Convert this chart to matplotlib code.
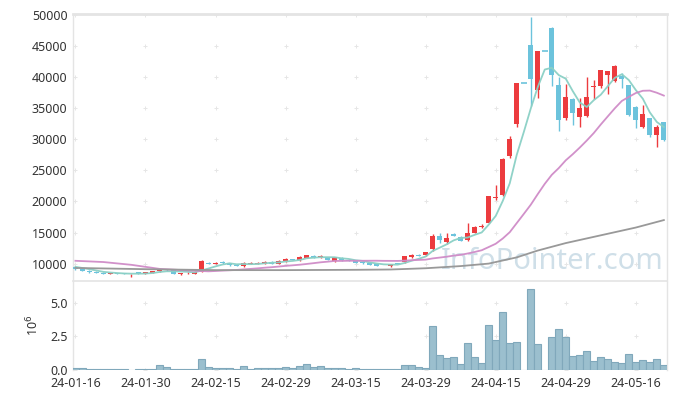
import matplotlib
matplotlib.use('Agg')
import matplotlib.pyplot as plt
import numpy as np
import pandas as pd

# ---------------- data ----------------
dates = (
    ["2024-01-%02d" % d for d in [16, 17, 18, 19, 22, 23, 24, 25, 26, 29, 30, 31]]
    + ["2024-02-%02d" % d for d in [1, 2, 5, 6, 7, 8, 13, 14, 15, 16, 19, 20, 21, 22, 23, 26, 27, 28, 29]]
    + ["2024-03-%02d" % d for d in [4, 5, 6, 7, 8, 11, 12, 13, 14, 15, 18, 19, 20, 21, 22, 25, 26, 27, 28, 29]]
    + ["2024-04-%02d" % d for d in [1, 2, 3, 4, 5, 8, 9, 11, 12, 15, 16, 17, 18, 19, 22, 23, 24, 25, 26, 29, 30]]
    + ["2024-05-%02d" % d for d in [2, 3, 7, 8, 9, 10, 13, 14, 16, 17, 20, 21, 22]]
)

opens = [9450, 9050, 8850, 8700, 8550, 8350, 8500, 8450, 8300, 8600,
         8350, 8550, 8750, 9150, 8900, 8250, 8450, 8400, 8650, 10150,
         9950, 10300, 10100, 9850, 9550, 10000, 9950, 9950, 10300, 9950,
         10350, 10700, 10550, 10900, 11300, 11000, 11050, 10450, 10900, 10600,
         10500, 10200, 10150, 9900, 9800, 9650, 10050, 10250, 11000, 11400,
         11350, 12300, 14500, 13400, 14800, 14350, 13800, 15000, 15900, 16600,
         20500, 21000, 27300, 32400, 39000, 45200, 37900, 44200, 47900, 38700,
         33400, 36500, 33550, 33700, 38400, 38550, 40300, 39350, 40100, 38700,
         35200, 31900, 33450, 30750, 32700]
highs = [9500, 9150, 8900, 8750, 8600, 8550, 8550, 8500, 8400, 8650,
         8650, 8850, 9200, 9200, 8950, 8500, 8650, 8750, 10550, 10250,
         10250, 10350, 10150, 9900, 10300, 10200, 10250, 10350, 10350, 10550,
         10900, 10750, 11150, 11450, 11400, 11400, 11100, 11100, 11000, 10700,
         10550, 10250, 10200, 9950, 9850, 10000, 10150, 11300, 11550, 11500,
         11850, 14800, 14900, 14900, 14950, 14400, 16600, 16000, 16400, 20900,
         22700, 27000, 30500, 39100, 39000, 49700, 44200, 44200, 48100, 40000,
         38950, 36650, 36650, 40000, 39600, 41200, 41050, 41950, 40650, 38800,
         35300, 35500, 33500, 32300, 32800]
lows = [8950, 8750, 8550, 8450, 8300, 8300, 8350, 8250, 7900, 8300,
        8300, 8500, 8700, 8850, 8300, 8150, 8400, 8350, 8600, 9900,
        9900, 10000, 9650, 9550, 9500, 9950, 9900, 9900, 10000, 9900,
        10300, 10550, 10450, 10850, 10900, 10900, 10550, 10300, 10450, 10400,
        10100, 10000, 9750, 9600, 9700, 9500, 9950, 10100, 10950, 11200,
        11300, 12000, 13300, 13200, 14400, 13650, 13700, 14900, 15750, 16500,
        20300, 20800, 27000, 32000, 39000, 35300, 36650, 44200, 38600, 31400,
        33150, 32300, 32000, 33600, 36400, 38200, 37300, 39200, 38250, 33800,
        31800, 31800, 30350, 28700, 29800]
closes = [9050, 8800, 8650, 8500, 8350, 8500, 8400, 8300, 8350, 8350,
          8600, 8800, 9150, 8900, 8350, 8450, 8550, 8700, 10400, 9950,
          10150, 10050, 9700, 9600, 10150, 10050, 10150, 10300, 10000, 10450,
          10800, 10600, 11050, 11350, 10950, 11200, 10600, 11000, 10500, 10450,
          10150, 10050, 9800, 9650, 9750, 9950, 10000, 11150, 11450, 11300,
          11800, 14500, 13750, 14150, 14500, 13700, 14900, 15900, 16050, 20800,
          20700, 26900, 30100, 39000, 39000, 39700, 44200, 44200, 40400, 33100,
          36800, 34200, 35050, 36800, 38600, 41200, 41050, 41750, 39700, 33900,
          33150, 34100, 30750, 32000, 29850]
volumes = [150e3, 150e3, 70e3, 70e3, 70e3, 70e3, 70e3, 70e3, 0, 70e3,
           70e3, 110e3, 350e3, 200e3, 50e3, 50e3, 50e3, 50e3, 800e3, 200e3,
           120e3, 120e3, 120e3, 50e3, 270e3, 50e3, 120e3, 120e3, 120e3, 120e3,
           200e3, 120e3, 270e3, 420e3, 200e3, 270e3, 120e3, 120e3, 120e3, 50e3,
           120e3, 50e3, 50e3, 50e3, 50e3, 50e3, 50e3, 348e3, 348e3, 199e3,
           124e3, 3.26e6, 1.09e6, 0.90e6, 0.95e6, 0.42e6, 1.99e6, 0.95e6, 0.50e6, 3.33e6,
           2.21e6, 4.30e6, 1.99e6, 2.06e6, 0, 6.02e6, 1.92e6, 0, 2.44e6, 3.03e6,
           2.49e6, 1.02e6, 1.09e6, 1.39e6, 0.65e6, 0.95e6, 0.80e6, 0.57e6, 0.50e6, 1.17e6,
           0.57e6, 0.72e6, 0.57e6, 0.80e6, 0.35e6]

# moving-average values before the window is complete
ma5_head_idx = [0, 2]
ma5_head = [9480, 9100]
ma20_head_idx = [0, 4, 8, 12, 16]
ma20_head = [10450, 10250, 9800, 9150, 8900]
# long moving average (needs history outside the chart)
malong_idx = [0, 10, 20, 30, 40, 45, 50, 55, 59, 63, 66, 70, 75, 80, 84]
malong = [9300, 9100, 8950, 8950, 9000, 9050, 9250, 9600, 10000, 11000,
          12100, 13300, 14550, 15800, 17000]

tick_step = 10
price_ticks = [10000, 15000, 20000, 25000, 30000, 35000, 40000, 45000, 50000]
vol_ticks = [0.0, 2.5, 5.0]

# ---------------- styling ----------------
plt.rcParams['font.family'] = ['Noto Sans', 'DejaVu Sans']
RED = '#ec3b3e'
BLUE = '#6cc3dc'
GRID = '#e6e6e6'
SPINE = '#e4e4e4'
TXT = '#333333'

n = len(closes)
x = np.arange(n)
o = np.array(opens, float); h = np.array(highs, float)
l = np.array(lows, float); c = np.array(closes, float)

fig = plt.figure(figsize=(6.77, 3.99), dpi=100)
ax = fig.add_axes([73/677, 118/399, 594/677, 267/399])
axv = fig.add_axes([73/677, 29/399, 594/677, 88/399], sharex=ax)

up = c > o
cols = [RED if u else BLUE for u in up]

# wicks
ax.vlines(x, l, h, colors=cols, linewidth=1.0, zorder=3)
# bodies
body_h = np.abs(c - o)
ax.bar(x, body_h, bottom=np.minimum(o, c), width=0.68, color=cols,
       linewidth=0, zorder=4)
flat = body_h == 0
ax.hlines(c[flat], x[flat] - 0.4, x[flat] + 0.4, colors=[cols[i] for i in np.where(flat)[0]],
          linewidth=1.2, zorder=4)

# moving averages
s = pd.Series(c)
ma5 = s.rolling(5).mean().values
ma20 = s.rolling(20).mean().values
ax.plot(ma5_head_idx + list(x[4:]), ma5_head + list(ma5[4:]), color='#8ad0c5',
        lw=1.3, zorder=5, alpha=0.95)
ax.plot(ma20_head_idx + list(x[19:]), ma20_head + list(ma20[19:]), color='#cf8bc7',
        lw=1.3, zorder=5, alpha=0.95)
ax.plot(malong_idx, malong, color='#999999', lw=1.3, zorder=5)

# watermark
ax.text(0.806, 0.044, 'InfoPointer.com', transform=ax.transAxes, ha='center',
        va='baseline', fontsize=21, color='#c3d7e3', alpha=0.8, zorder=2)

# volume
axv.bar(x, np.array(volumes) / 1e6, width=1.0, color='#9bbfce',
        edgecolor='#80a8bb', linewidth=0.8, zorder=3)

# axes setup
ax.set_xlim(-0.35, n - 1 + 0.45)
ax.set_ylim(7200, 50150)
axv.set_ylim(0, 6.55)

ax.set_yticks(price_ticks)
ax.set_yticklabels([str(t) for t in price_ticks])
axv.set_yticks(vol_ticks)
axv.set_yticklabels(['%.1f' % t for t in vol_ticks])

xt = list(range(0, n, tick_step))
axv.set_xticks(xt)
axv.set_xticklabels([dates[i][2:] for i in xt])
plt.setp(ax.get_xticklabels(), visible=False)

for a in (ax, axv):
    a.tick_params(axis='both', length=0, labelsize=9, colors=TXT, pad=4)
    for sp in a.spines.values():
        sp.set_color(SPINE)
        sp.set_linewidth(1.0)
    a.spines['bottom'].set_visible(False)
    # grid crosses at tick intersections
    yt = a.get_yticks()
    XX, YY = np.meshgrid(xt, yt)
    a.plot(XX.ravel(), YY.ravel(), linestyle='none', marker='+', ms=3.5,
           mew=0.7, color=GRID, zorder=1)
ax.spines['top'].set_linewidth(2.0)
ax.spines['bottom'].set_visible(True)
ax.spines['bottom'].set_linewidth(1.2)
axv.spines['top'].set_visible(False)
axv.tick_params(axis='x', pad=5)

fig.text(33/677, 1 - 325/399, r'10$^{6}$', rotation=90, ha='center', va='center',
         fontsize=9, color=TXT)

fig.savefig('out.png', dpi=100)
